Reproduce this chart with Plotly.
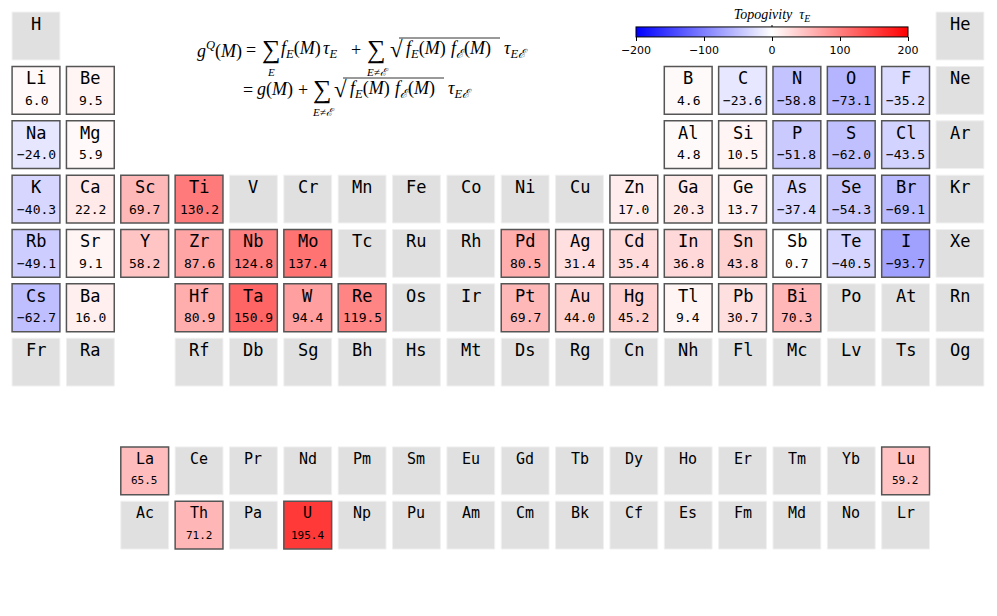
import plotly.graph_objects as go

# element symbols in atomic order (H .. Og)
elements = ["H", "He",
            "Li", "Be", "B", "C", "N", "O", "F", "Ne",
            "Na", "Mg", "Al", "Si", "P", "S", "Cl", "Ar",
            "K", "Ca", "Sc", "Ti", "V", "Cr", "Mn", "Fe", "Co", "Ni", "Cu", "Zn",
            "Ga", "Ge", "As", "Se", "Br", "Kr",
            "Rb", "Sr", "Y", "Zr", "Nb", "Mo", "Tc", "Ru", "Rh", "Pd", "Ag", "Cd",
            "In", "Sn", "Sb", "Te", "I", "Xe",
            "Cs", "Ba", "La", "Ce", "Pr", "Nd", "Pm", "Sm", "Eu", "Gd", "Tb", "Dy",
            "Ho", "Er", "Tm", "Yb", "Lu", "Hf", "Ta", "W", "Re", "Os", "Ir", "Pt",
            "Au", "Hg", "Tl", "Pb", "Bi", "Po", "At", "Rn",
            "Fr", "Ra", "Ac", "Th", "Pa", "U", "Np", "Pu", "Am", "Cm", "Bk", "Cf",
            "Es", "Fm", "Md", "No", "Lr", "Rf", "Db", "Sg", "Bh", "Hs", "Mt", "Ds",
            "Rg", "Cn", "Nh", "Fl", "Mc", "Lv", "Ts", "Og"]

# topogivity values
tau_elements = ["Li", "Be", "B", "C", "N", "O", "F",
                "Na", "Mg", "Al", "Si", "P", "S", "Cl",
                "K", "Ca", "Sc", "Ti", "Zn", "Ga", "Ge", "As", "Se", "Br",
                "Rb", "Sr", "Y", "Zr", "Nb", "Mo", "Pd", "Ag", "Cd", "In", "Sn", "Sb", "Te", "I",
                "Cs", "Ba", "Hf", "Ta", "W", "Re", "Pt", "Au", "Hg", "Tl", "Pb", "Bi",
                "La", "Lu", "Th", "U"]
tau_values = [6.0, 9.5, 4.6, -23.6, -58.8, -73.1, -35.2,
              -24.0, 5.9, 4.8, 10.5, -51.8, -62.0, -43.5,
              -40.3, 22.2, 69.7, 130.2, 17.0, 20.3, 13.7, -37.4, -54.3, -69.1,
              -49.1, 9.1, 58.2, 87.6, 124.8, 137.4, 80.5, 31.4, 35.4, 36.8, 43.8, 0.7, -40.5, -93.7,
              -62.7, 16.0, 80.9, 150.9, 94.4, 119.5, 69.7, 44.0, 45.2, 9.4, 30.7, 70.3,
              65.5, 59.2, 71.2, 195.4]

cbar_ticks = [-200, -100, 0, 100, 200]
VMIN, VMAX = -200, 200

W, H = 997, 616
OFF = 8  # page body margin


def position(z):
    # (column, row) in the usual periodic table layout; f-block in rows 9/10
    if z == 1:
        return 1, 1
    if z == 2:
        return 18, 1
    if z <= 10:
        n = z - 2
        return (n if n <= 2 else n + 10), 2
    if z <= 18:
        n = z - 10
        return (n if n <= 2 else n + 10), 3
    if z <= 36:
        return z - 18, 4
    if z <= 54:
        return z - 36, 5
    if 57 <= z <= 71:
        return z - 54, 9
    if 89 <= z <= 103:
        return z - 86, 10
    base = 54 if z <= 86 else 86
    n = z - base
    return (n if n <= 2 else n - 14), (6 if z <= 86 else 7)


def bwr(v, alpha=1.0):
    t = min(max((v - VMIN) / (VMAX - VMIN), 0), 1)
    if t < 0.5:
        r = g = 2 * t
        b = 1.0
    else:
        r = 1.0
        g = b = 2 * (1 - t)
    return "rgba(%d,%d,%d,%.2f)" % (round(r * 255), round(g * 255), round(b * 255), alpha)


tau = dict(zip(tau_elements, tau_values))

fig = go.Figure()
shapes = []
annotations = []
half = 0.44
ppu = 54.35  # pixels per table unit

for i, el in enumerate(elements):
    col, row = position(i + 1)
    fblock = row >= 9
    sym_size = 15 if fblock else 17
    val_size = 11 if fblock else 13
    if el in tau:
        shapes.append(dict(type="rect", xref="x", yref="y",
                           x0=col - half, x1=col + half, y0=row - half, y1=row + half,
                           fillcolor=bwr(tau[el], 0.8), line=dict(color="#555555", width=1.5),
                           layer="below"))
        annotations.append(dict(x=col, y=row + 10 / ppu, xref="x", yref="y",
                                text=("%.1f" % tau[el]).replace("-", "\u2212"),
                                showarrow=False, font=dict(size=val_size, color="black")))
    else:
        shapes.append(dict(type="rect", xref="x", yref="y",
                           x0=col - half, x1=col + half, y0=row - half, y1=row + half,
                           fillcolor="#e0e0e0", line=dict(color="#f0f0f0", width=1),
                           layer="below"))
    annotations.append(dict(x=col, y=row - 12 / ppu, xref="x", yref="y", text=el,
                            showarrow=False, font=dict(size=sym_size, color="black")))


# formula, placed in screen pixel coordinates
def px(x, y):
    return (x - OFF) / W, 1 - (y - OFF) / H


serif = "Liberation Serif"


def add_text(x, y, text, size=18, anchor="left"):
    xx, yy = px(x, y)
    annotations.append(dict(x=xx, y=yy, xref="paper", yref="paper", text=text,
                            xanchor=anchor, yanchor="middle", showarrow=False,
                            font=dict(family=serif, size=size, color="black")))


def overline(x0, x1, y):
    a0, b0 = px(x0, y)
    a1, _ = px(x1, y)
    shapes.append(dict(type="line", xref="paper", yref="paper", x0=a0, x1=a1, y0=b0, y1=b0,
                       line=dict(color="black", width=0.8)))


CAL = "<i>\u2130</i>"
fE = "<i>f</i><sub><i>E</i></sub>(<i>M</i>)"
fC = "<i>f</i><sub>" + CAL + "</sub>(<i>M</i>)"
tau_pair = "<i>\u03c4</i><sub><i>E</i>" + CAL + "</sub>"


def sqrt_term(x, y):
    # radical sign, bar and the product under it, then the pair topogivity
    add_text(x, y, "\u221a", size=23)
    overline(x + 11, x + 112, y - 12)
    add_text(x + 16, y, fE)
    add_text(x + 61, y, fC)
    add_text(x + 114, y, tau_pair)


# line 1
add_text(195, 50, "<i>g</i><sup><i>Q</i></sup>(<i>M</i>)")
add_text(251, 50, "=", anchor="center")
add_text(271, 49, "\u2211", size=26, anchor="center")
add_text(271, 72, "<i>E</i>", size=11, anchor="center")
add_text(279, 50, fE)
add_text(321, 50, "<i>\u03c4</i><sub><i>E</i></sub>")
add_text(356, 50, "+", anchor="center")
add_text(376, 49, "\u2211", size=26, anchor="center")
add_text(377, 72, "<i>E</i>\u2260" + CAL, size=11, anchor="center")
sqrt_term(388, 50)

# line 2
add_text(248, 90, "=", anchor="center")
add_text(255, 90, "<i>g</i>(<i>M</i>)")
add_text(303, 90, "+", anchor="center")
add_text(322, 89, "\u2211", size=26, anchor="center")
add_text(323, 112, "<i>E</i>\u2260" + CAL, size=11, anchor="center")
sqrt_term(332, 90)

# zero mark across the colour bar
bx, _ = px(772, 0)
_, by0 = px(0, 25)
_, by1 = px(0, 36)
shapes.append(dict(type="line", xref="paper", yref="paper", x0=bx, x1=bx, y0=by0, y1=by1,
                   line=dict(color="black", width=1, dash="dot")))

# dummy trace for the colour bar
cx, _ = px(772, 0)
fig.add_trace(go.Scatter(
    x=[-5], y=[-5], mode="markers", hoverinfo="skip", showlegend=False,
    marker=dict(color=[0], cmin=VMIN, cmax=VMAX, showscale=True,
                colorscale=[[0, "rgb(0,0,255)"], [0.5, "rgb(255,255,255)"], [1, "rgb(255,0,0)"]],
                colorbar=dict(orientation="h", x=cx, xanchor="center",
                              y=1 - 2 / H, yanchor="top", len=272 / W, lenmode="fraction",
                              thickness=10, xpad=0, ypad=0,
                              outlinecolor="black", outlinewidth=1,
                              tickvals=cbar_ticks, ticktext=[str(t).replace("-", "\u2212") for t in cbar_ticks],
                              ticks="outside", ticklen=4, tickcolor="black",
                              tickfont=dict(family="DejaVu Sans", size=11, color="black"),
                              title=dict(text="<i>Topogivity</i>  <i>\u03c4</i><sub><i>E</i></sub>",
                                         side="top",
                                         font=dict(family=serif, size=14, color="black"))))))

x0 = 1 - (36 - OFF) / ppu
y0 = 1 - (36 - OFF) / ppu
fig.update_layout(
    width=W, height=H,
    margin=dict(l=0, r=0, t=0, b=0),
    paper_bgcolor="white", plot_bgcolor="white",
    font=dict(family="DejaVu Sans Mono"),
    xaxis=dict(range=[x0, x0 + W / ppu], visible=False, fixedrange=True),
    yaxis=dict(range=[y0 + H / ppu, y0], visible=False, fixedrange=True),
    shapes=shapes, annotations=annotations,
)

fig.write_html("out.html")
